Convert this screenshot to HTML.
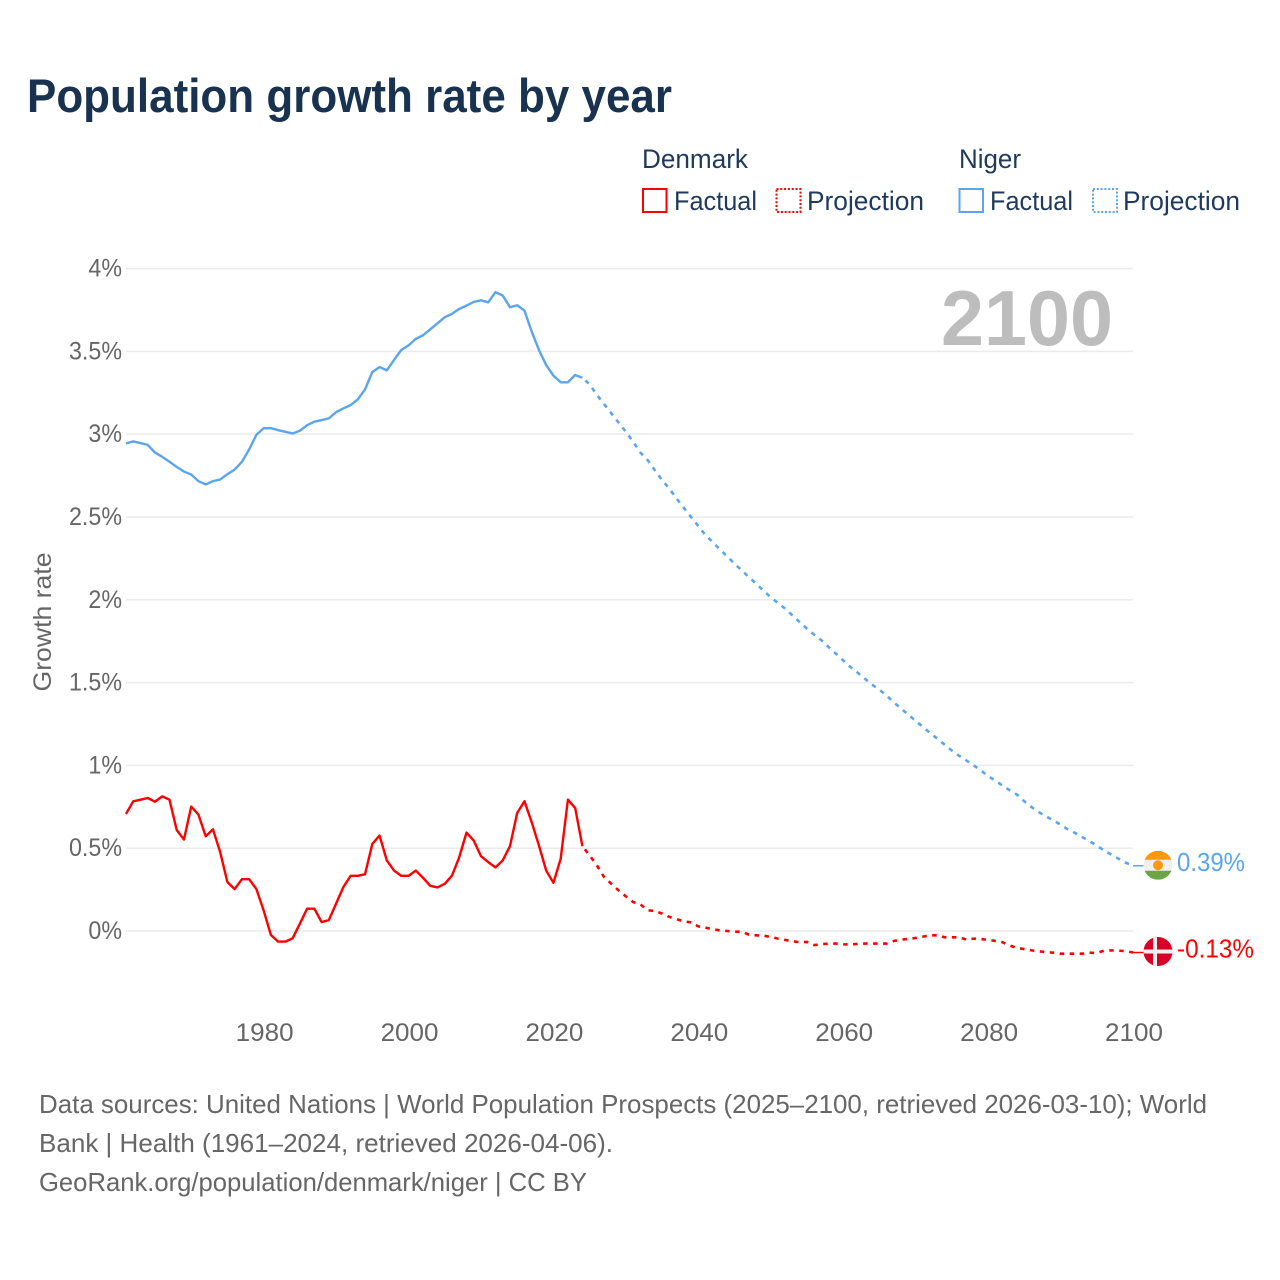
<!DOCTYPE html>
<html lang="en">
<head>
<meta charset="utf-8">
<title>Population growth rate by year</title>
<style>
html,body{margin:0;padding:0;background:#fff;width:1280px;height:1280px;overflow:hidden}
svg{display:block}
text{font-family:"Liberation Sans",sans-serif}
</style>
</head>
<body>
<svg id="chart" xmlns="http://www.w3.org/2000/svg" width="1280" height="1280" viewBox="0 0 1280 1280">
  <defs>
    <clipPath id="flag-clip-niger"><circle id="clip-niger" cx="1158" cy="865" r="14.5"/></clipPath>
    <clipPath id="flag-clip-denmark"><circle id="clip-denmark" cx="1158" cy="951" r="14.5"/></clipPath>
  </defs>
  <rect width="1280" height="1280" fill="#fff"/>
  <text x="27" y="112" font-size="47" font-weight="700" fill="#18324f" textLength="645" lengthAdjust="spacingAndGlyphs">Population growth rate by year</text>

  <g font-size="27" fill="#1f3a5c">
    <text x="642" y="168" textLength="106" lengthAdjust="spacingAndGlyphs">Denmark</text>
    <rect x="643" y="189" width="23.5" height="23" fill="none" stroke="#ff0000" stroke-width="2"/>
    <text x="674" y="210" textLength="83" lengthAdjust="spacingAndGlyphs">Factual</text>
    <rect x="776.500" y="189" width="24" height="23" fill="none" stroke="#ff0000" stroke-width="2" stroke-dasharray="2 1.800"/>
    <text x="807" y="210" textLength="117" lengthAdjust="spacingAndGlyphs">Projection</text>
    <text x="959" y="168" textLength="62" lengthAdjust="spacingAndGlyphs">Niger</text>
    <rect x="959.500" y="189" width="23.5" height="23" fill="none" stroke="#5aa5ee" stroke-width="2"/>
    <text x="990" y="210" textLength="83" lengthAdjust="spacingAndGlyphs">Factual</text>
    <rect x="1093" y="189" width="24" height="23" fill="none" stroke="#5aa5ee" stroke-width="2" stroke-dasharray="2 1.800"/>
    <text x="1123" y="210" textLength="117" lengthAdjust="spacingAndGlyphs">Projection</text>
  </g>

  <g id="grid"></g>
  <g id="y-ticks"></g>
  <g id="x-ticks"></g>
  <text transform="translate(51,622) rotate(-90)" text-anchor="middle" font-size="25" fill="#666" textLength="139" lengthAdjust="spacingAndGlyphs">Growth rate</text>
  <text x="941" y="345" font-size="78" font-weight="700" fill="#bdbdbd" textLength="172" lengthAdjust="spacingAndGlyphs">2100</text>

  <g id="series"></g>

  <g id="flag-niger"></g>
  <g id="flag-denmark"></g>
  <text id="value-niger" x="1177" font-size="26" fill="#5aa5ee" textLength="68" lengthAdjust="spacingAndGlyphs"></text>
  <text id="value-denmark" x="1177" font-size="26" fill="#ff0000" textLength="77" lengthAdjust="spacingAndGlyphs"></text>

  <g font-size="26" fill="#666">
    <text x="39" y="1113" textLength="1168" lengthAdjust="spacingAndGlyphs">Data sources: United Nations | World Population Prospects (2025–2100, retrieved 2026-03-10); World</text>
    <text x="39" y="1152" textLength="574" lengthAdjust="spacingAndGlyphs">Bank | Health (1961–2024, retrieved 2026-04-06).</text>
    <text x="39" y="1191" textLength="548" lengthAdjust="spacingAndGlyphs">GeoRank.org/population/denmark/niger | CC BY</text>
  </g>
</svg>
<script>
const firstYear = 1961;
const lastFactualYear = 2024;
const lastYear = 2100;
const yTickValues = [0, 0.5, 1, 1.5, 2, 2.5, 3, 3.5, 4];
const yTickLabels = ['0%', '0.5%', '1%', '1.5%', '2%', '2.5%', '3%', '3.5%', '4%'];
const xTickYears = [1980, 2000, 2020, 2040, 2060, 2080, 2100];
const denmarkFactual = [0.707,0.783,0.793,0.803,0.781,0.813,0.793,0.610,0.552,0.751,0.703,0.572,0.614,0.476,0.295,0.253,0.313,0.313,0.253,0.124,-0.024,-0.064,-0.064,-0.044,0.044,0.135,0.135,0.054,0.066,0.165,0.265,0.333,0.333,0.343,0.526,0.576,0.426,0.365,0.333,0.333,0.365,0.321,0.273,0.263,0.285,0.335,0.446,0.594,0.546,0.452,0.416,0.384,0.426,0.512,0.713,0.783,0.657,0.516,0.365,0.291,0.436,0.793,0.743,0.512];
const denmarkProjection = [0.456,0.396,0.325,0.285,0.245,0.209,0.175,0.161,0.125,0.121,0.105,0.085,0.072,0.058,0.052,0.028,0.02,0.01,0.004,0,-0.004,-0.004,-0.022,-0.026,-0.028,-0.036,-0.046,-0.054,-0.062,-0.068,-0.066,-0.085,-0.08,-0.076,-0.076,-0.08,-0.082,-0.078,-0.076,-0.076,-0.076,-0.076,-0.06,-0.052,-0.048,-0.042,-0.034,-0.026,-0.026,-0.038,-0.038,-0.038,-0.052,-0.046,-0.048,-0.054,-0.06,-0.068,-0.088,-0.103,-0.109,-0.117,-0.123,-0.127,-0.131,-0.137,-0.137,-0.137,-0.137,-0.131,-0.133,-0.119,-0.117,-0.119,-0.121,-0.13];
const nigerFactual = [2.944,2.956,2.946,2.935,2.889,2.863,2.833,2.802,2.774,2.756,2.716,2.696,2.716,2.726,2.758,2.786,2.833,2.907,2.996,3.036,3.036,3.024,3.014,3.004,3.02,3.054,3.075,3.085,3.095,3.133,3.155,3.175,3.21,3.27,3.375,3.405,3.385,3.448,3.508,3.536,3.575,3.597,3.633,3.669,3.706,3.726,3.756,3.776,3.798,3.808,3.796,3.857,3.837,3.766,3.778,3.746,3.619,3.508,3.417,3.353,3.313,3.313,3.357,3.34];
const nigerProjection = [3.30,3.236,3.181,3.125,3.07,3.014,2.954,2.889,2.843,2.782,2.722,2.671,2.611,2.555,2.499,2.445,2.39,2.348,2.302,2.262,2.217,2.177,2.135,2.097,2.054,2.016,1.98,1.946,1.905,1.865,1.825,1.789,1.755,1.714,1.674,1.634,1.594,1.559,1.523,1.487,1.457,1.421,1.38,1.342,1.306,1.268,1.233,1.195,1.161,1.125,1.089,1.058,1.03,1,0.97,0.934,0.909,0.877,0.849,0.823,0.783,0.748,0.718,0.692,0.668,0.642,0.614,0.592,0.567,0.543,0.515,0.487,0.461,0.437,0.412,0.394];

const SVG_NS = 'http://www.w3.org/2000/svg';
const plotLeft = 126, plotRight = 1133, zeroY = 931, fourY = 268.5;
const flagX = 1158, flagR = 14.5;
function xScale(year) {
  return plotLeft + (year - firstYear) * (plotRight - plotLeft) / (lastYear - firstYear);
}
function yScale(value) {
  return zeroY + value * (fourY - zeroY) / 4;
}
function make(tag) {
  return document.createElementNS(SVG_NS, tag);
}
function pointsFrom(values, startYear) {
  return values.map(function (v, i) {
    return xScale(startYear + i).toFixed(2) + ',' + yScale(v).toFixed(2);
  }).join(' ');
}

const gridGroup = document.getElementById('grid');
const yTickGroup = document.getElementById('y-ticks');
yTickValues.forEach(function (value, i) {
  const line = make('line');
  
  
  line.setAttribute('x1', plotLeft);
  line.setAttribute('x2', plotRight);
  line.setAttribute('y1', yScale(value));
  line.setAttribute('y2', yScale(value));
  line.setAttribute('stroke', '#ebebeb');
  line.setAttribute('stroke-width', '1.5');
  gridGroup.appendChild(line);

  const label = make('text');
  
  
  label.setAttribute('x', 122);
  label.setAttribute('y', yScale(value) + 8);
  label.setAttribute('text-anchor', 'end');
  label.setAttribute('font-size', '25');
  label.setAttribute('fill', '#666');
  label.textContent = yTickLabels[i];
  yTickGroup.appendChild(label);
  label.setAttribute('textLength', (label.getComputedTextLength() * 0.93).toFixed(1));
  label.setAttribute('lengthAdjust', 'spacingAndGlyphs');
});

const xTickGroup = document.getElementById('x-ticks');
xTickYears.forEach(function (year) {
  const label = make('text');
  
  
  label.setAttribute('x', xScale(year) + 1);
  label.setAttribute('y', 1041);
  label.setAttribute('text-anchor', 'middle');
  label.setAttribute('font-size', '25');
  label.setAttribute('fill', '#666');
  label.textContent = String(year);
  xTickGroup.appendChild(label);
  label.setAttribute('textLength', (label.getComputedTextLength() * 1.04).toFixed(1));
  label.setAttribute('lengthAdjust', 'spacingAndGlyphs');
});

const seriesGroup = document.getElementById('series');
function drawSeries(name, color, factual, projection) {
  const solid = make('polyline');
  
  
  solid.setAttribute('points', pointsFrom(factual, firstYear));
  solid.setAttribute('fill', 'none');
  solid.setAttribute('stroke', color);
  solid.setAttribute('stroke-width', '2.4');
  solid.setAttribute('stroke-linejoin', 'round');
  seriesGroup.appendChild(solid);

  const dashed = make('polyline');
  
  
  dashed.setAttribute('points', pointsFrom([factual[factual.length - 1]].concat(projection), lastFactualYear));
  dashed.setAttribute('fill', 'none');
  dashed.setAttribute('stroke', color);
  dashed.setAttribute('stroke-width', '2.6');
  dashed.setAttribute('stroke-dasharray', '4.5 5.5');
  dashed.setAttribute('stroke-dashoffset', '-4');
  seriesGroup.appendChild(dashed);

  const endY = yScale(projection[projection.length - 1]);
  const connector = make('line');
  
  
  connector.setAttribute('x1', xScale(lastYear));
  connector.setAttribute('x2', flagX - flagR);
  connector.setAttribute('y1', endY);
  connector.setAttribute('y2', endY);
  connector.setAttribute('stroke', color);
  connector.setAttribute('stroke-width', '1.5');
  seriesGroup.appendChild(connector);
  return endY;
}
const endDenmark = drawSeries('denmark', '#ff0000', denmarkFactual, denmarkProjection);
const endNiger = drawSeries('niger', '#5aa5ee', nigerFactual, nigerProjection);

function addRect(group, clipId, x, y, w, h, fill) {
  const r = make('rect');
  
  
  r.setAttribute('x', x);
  r.setAttribute('y', y);
  r.setAttribute('width', w);
  r.setAttribute('height', h);
  r.setAttribute('fill', fill);
  r.setAttribute('clip-path', 'url(#' + clipId + ')');
  group.appendChild(r);
}

const nigerCy = endNiger - 0.5;
document.getElementById('clip-niger').setAttribute('cy', nigerCy);
const nigerFlag = document.getElementById('flag-niger');
const fl = flagX - flagR, fs = flagR * 2;
addRect(nigerFlag, 'flag-clip-niger', fl, nigerCy - flagR, fs, fs, '#f0f0f0');
addRect(nigerFlag, 'flag-clip-niger', fl, nigerCy - flagR, fs, 9, '#ff9811');
addRect(nigerFlag, 'flag-clip-niger', fl, nigerCy + flagR - 9, fs, 9, '#6da544');
const nigerDot = make('circle');


nigerDot.setAttribute('cx', flagX);
nigerDot.setAttribute('cy', nigerCy);
nigerDot.setAttribute('r', 5);
nigerDot.setAttribute('fill', '#ff9811');
nigerFlag.appendChild(nigerDot);

const denmarkCy = endDenmark - 1;
document.getElementById('clip-denmark').setAttribute('cy', denmarkCy);
const denmarkFlag = document.getElementById('flag-denmark');
addRect(denmarkFlag, 'flag-clip-denmark', fl, denmarkCy - flagR, fs, fs, '#d80027');
addRect(denmarkFlag, 'flag-clip-denmark', fl, denmarkCy - 2, fs, 4, '#f0f0f0');
addRect(denmarkFlag, 'flag-clip-denmark', flagX - 5, denmarkCy - flagR, 4, fs, '#f0f0f0');

const nigerValue = document.getElementById('value-niger');
nigerValue.setAttribute('y', nigerCy + 6);
nigerValue.textContent = nigerProjection[nigerProjection.length - 1].toFixed(2) + '%';
const denmarkValue = document.getElementById('value-denmark');
denmarkValue.setAttribute('y', denmarkCy + 6);
denmarkValue.textContent = denmarkProjection[denmarkProjection.length - 1].toFixed(2) + '%';
</script>
</body>
</html>
